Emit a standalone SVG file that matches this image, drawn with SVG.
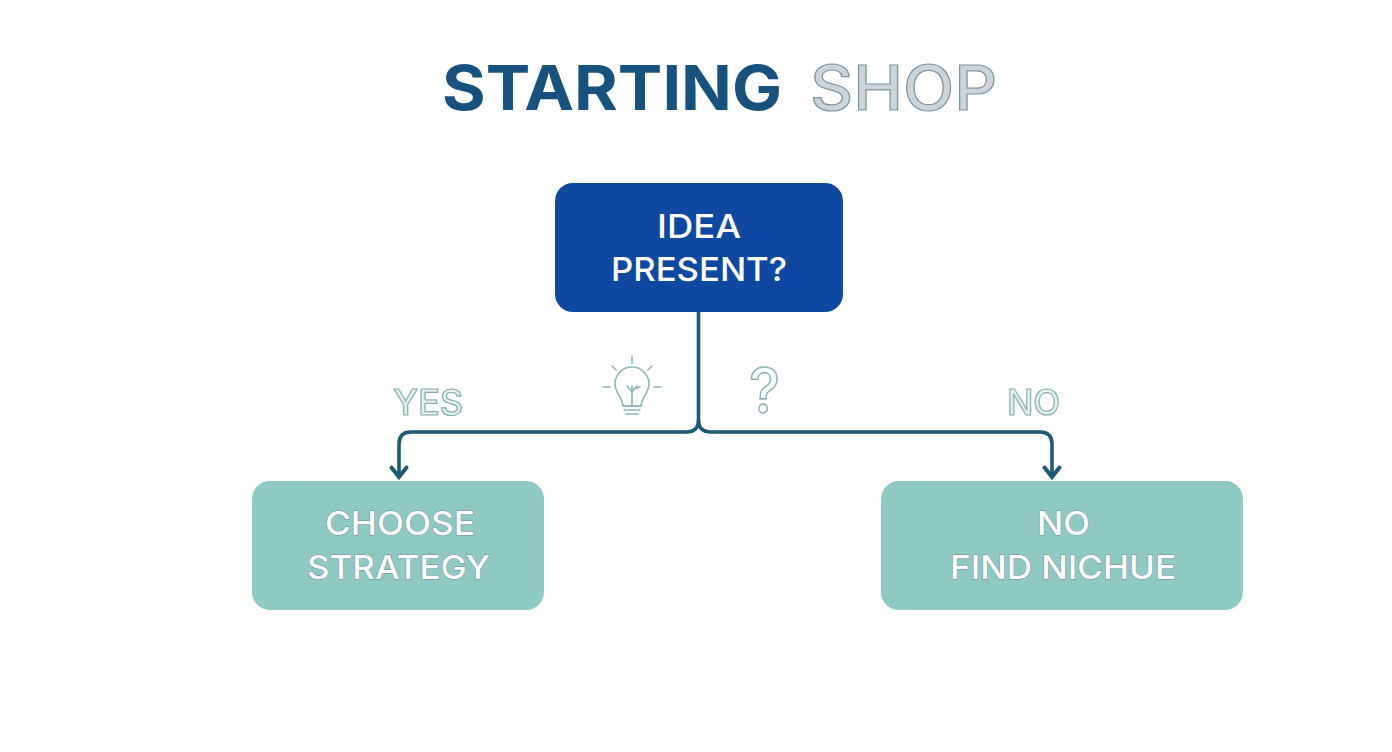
<svg xmlns="http://www.w3.org/2000/svg" width="1392" height="752" viewBox="0 0 1392 752">
<style>
text{font-family:"Inter","Liberation Sans",sans-serif;text-anchor:start}
.title{font-size:62px;font-weight:700;fill:#17527f}
.shop{font-size:62px;font-weight:500;fill:#ccd3da;stroke:#7f979f;stroke-width:1.2px}
.box{font-size:33px;font-weight:500;fill:#fff}
.lt{stroke:#6f8f96;stroke-width:1px;paint-order:stroke}
.lab{font-size:36px;font-weight:500;fill:#e6f1f0;stroke:#86aeb1;stroke-width:1.2px}
.conn{fill:none;stroke:#1d5a73;stroke-width:3.6;stroke-linecap:round;stroke-linejoin:round}
.icon{fill:none;stroke:#8db4b9;stroke-width:1.6;stroke-linecap:round;stroke-linejoin:round}
</style>
<defs>
<marker id="arrow" markerUnits="userSpaceOnUse" markerWidth="24" markerHeight="20" refX="12" refY="14" orient="auto-start-reverse" viewBox="0 0 24 20">
<path d="M3.5 4 L12 14 L20.5 4" transform="rotate(0)" fill="none" stroke="#1d5a73" stroke-width="4" stroke-linecap="round"/>
</marker>
</defs>
<rect width="1392" height="752" fill="#fff"/>
<g id="title">
<text class="title" x="442" y="110" textLength="340" lengthAdjust="spacingAndGlyphs">STARTING</text>
<text class="shop" x="810" y="110" textLength="187" lengthAdjust="spacingAndGlyphs">SHOP</text>
</g>
<g id="connectors">
<path class="conn" d="M698.5 312 V420 Q698.5 432 686 432 H411 Q399 432 399 444 V477"/>
<path class="conn" d="M698.5 420 Q698.5 432 711 432 H1040 Q1052 432 1052 444 V477"/>
<path d="M391.500 467.500 L399 477 L406.500 467.500" fill="none" stroke="#1d5a73" stroke-width="4" stroke-linecap="round" stroke-linejoin="miter"/>
<path d="M1044.500 467.500 L1052 477 L1059.500 467.500" fill="none" stroke="#1d5a73" stroke-width="4" stroke-linecap="round" stroke-linejoin="miter"/>
</g>
<g id="node-idea">
<rect x="555" y="183" width="288" height="129" rx="18" fill="#0e48a1"/>
<text class="box" x="657" y="238" textLength="84" lengthAdjust="spacingAndGlyphs">IDEA</text>
<text class="box" x="611" y="281" textLength="176" lengthAdjust="spacingAndGlyphs">PRESENT?</text>
</g>
<g id="node-choose">
<rect x="252" y="481" width="292" height="129" rx="18" fill="#8ecac3"/>
<text class="box lt" x="325" y="535" textLength="150" lengthAdjust="spacingAndGlyphs">CHOOSE</text>
<text class="box lt" x="307" y="579" textLength="183" lengthAdjust="spacingAndGlyphs">STRATEGY</text>
</g>
<g id="node-no">
<rect x="881" y="481" width="362" height="129" rx="18" fill="#8ecac3"/>
<text class="box lt" x="1037" y="535" textLength="53" lengthAdjust="spacingAndGlyphs">NO</text>
<text class="box lt" x="950" y="579" textLength="226" lengthAdjust="spacingAndGlyphs">FIND NICHUE</text>
</g>
<g id="label-yes"><text class="lab" x="393" y="415" textLength="70" lengthAdjust="spacingAndGlyphs">YES</text></g>
<g id="label-no"><text class="lab" x="1007" y="415" textLength="53" lengthAdjust="spacingAndGlyphs">NO</text></g>
<g id="icon-bulb" class="icon">
<path d="M623 406 C623 398 615 393 615 384 A17 17 0 0 1 649 384 C649 393 641 398 641 406 Z"/>
<path d="M623 406 H641 M624 410 H640 M626 414 H638 M632 406 V386 M632 392 L627 386 M632 392 L637 386 M634 389 L640 387"/>
<path d="M632 356 V363 M612 366 L616 370 M652 366 L648 370 M603 387 H610 M654 387 H661"/>
</g>
<g id="icon-question"><text x="749" y="413" font-size="62" font-weight="500" fill="#fff" stroke="#8db4b9" stroke-width="1.6" textLength="31" lengthAdjust="spacingAndGlyphs">?</text></g>
</svg>
